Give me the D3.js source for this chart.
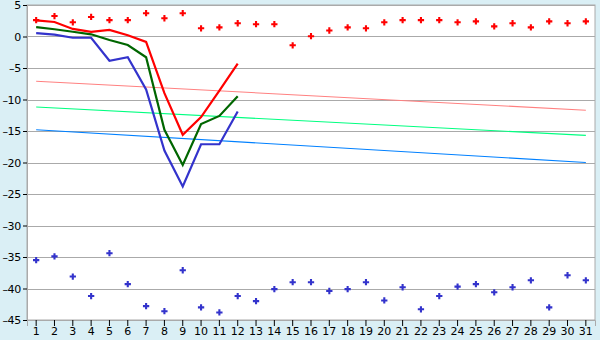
<!DOCTYPE html>
<html>
<head>
<meta charset="utf-8">
<script src="https://cdn.jsdelivr.net/npm/d3@7"></script>
<style>
  body { margin: 0; background: #daeff5; }
  svg { display: block; font-family: "DejaVu Sans", Verdana, sans-serif; }
</style>
</head>
<body>
<div class="canvas"></div>
<script>
const days = d3.range(1, 32);
const lineDays = d3.range(1, 13);

// values
const redLine = [2.55, 2.3, 1.2, 0.75, 1.05, 0.2, -0.85, -9.0, -15.6, -12.8, -8.6, -4.3];
const greenLine = [1.5, 1.15, 0.75, 0.35, -0.55, -1.35, -3.3, -14.8, -20.4, -13.9, -12.6, -9.5];
const blueLine = [0.55, 0.3, -0.2, -0.2, -3.85, -3.3, -8.4, -18.1, -23.8, -17.1, -17.1, -11.9];

const redDots = [2.6, 3.25, 2.25, 3.1, 2.6, 2.6, 3.7, 2.9, 3.7, 1.3, 1.45, 2.1, 1.95, 1.95, -1.4, 0.05,
  0.95, 1.45, 1.3, 2.25, 2.6, 2.6, 2.6, 2.25, 2.4, 1.6, 2.1, 1.45, 2.4, 2.1, 2.4];
const blueDots = [-35.5, -34.9, -38.1, -41.2, -34.4, -39.3, -42.8, -43.6, -37.1, -43.0, -43.8, -41.2, -42.0,
  -40.1, -39.0, -39.0, -40.4, -40.1, -39.0, -41.9, -39.8, -43.3, -41.2, -39.7, -39.3, -40.6, -39.8, -38.7,
  -43.0, -37.9, -38.7];

// trend lines: value at day 1 and day 31
const trendDays = [1, 31];
const redTrend = [-7.1, -11.7];
const greenTrend = [-11.2, -15.7];
const blueTrend = [-14.8, -20.0];

const yTicks = [5, 0, -5, -10, -15, -20, -25, -30, -35, -40, -45];

const margin = { t: 5, r: 5, b: 20, l: 27 };
const svgWidth = 600;
const svgHeight = 340;
const gWidth = svgWidth - margin.l - margin.r;
const gHeight = svgHeight - margin.b - margin.t;

const svg = d3
  .select(".canvas")
  .append("svg")
  .attr("width", svgWidth)
  .attr("height", svgHeight);

const g = svg
  .append("g")
  .attr("transform", `translate(${margin.l}, ${margin.t})`);

const x = d3.scaleBand().domain(days).range([0, gWidth]);
const y = d3.scaleLinear().domain([-45, 5]).range([gHeight, 0]);
const cx = d => x(d) + x.bandwidth() / 2;

g.append("rect")
  .attr("width", gWidth)
  .attr("height", gHeight)
  .attr("fill", "#fff")
  .attr("stroke", "#aaa");

g.append("g")
  .selectAll("line")
  .data(yTicks)
  .enter()
  .append("line")
  .attr("x1", 0)
  .attr("x2", gWidth)
  .attr("y1", d => Math.round(y(d)) + 0.5)
  .attr("y2", d => Math.round(y(d)) + 0.5)
  .attr("stroke", "#aaa");

const yAxis = d3
  .axisLeft(y)
  .tickValues(yTicks)
  .tickSize(4)
  .tickPadding(2)
  .tickFormat(d => (d < 0 ? "\u2013" + -d : "" + d));
const xAxis = d3.axisBottom(x).tickSize(6).tickPadding(1);

const yAxisGroup = g.append("g").call(yAxis);
const xAxisGroup = g.append("g").attr("transform", `translate(0, ${gHeight})`).call(xAxis);

[yAxisGroup, xAxisGroup].forEach(ax => {
  ax.select(".domain").attr("stroke", "#aaa");
  ax.selectAll(".tick line").attr("stroke", "#000");
  ax.selectAll("text")
    .attr("fill", "#000")
    .style("font-size", "11px")
    .style("font-family", "DejaVu Sans, sans-serif");
});
yAxisGroup.selectAll("text").style("letter-spacing", "-0.3px");

const trend = d3.line().x((d, i) => cx(trendDays[i])).y(d => y(d));
[[redTrend, "#ff8080"], [greenTrend, "#00ff80"], [blueTrend, "#0080ff"]].forEach(([data, color]) => {
  g.append("path")
    .datum(data)
    .attr("fill", "none")
    .attr("stroke", color)
    .attr("stroke-width", 1.1)
    .attr("d", trend);
});

const line = d3.line().x((d, i) => cx(lineDays[i])).y(d => y(d));
[[blueLine, "#3333cc"], [greenLine, "#006600"], [redLine, "#ff0000"]].forEach(([data, color]) => {
  g.append("path")
    .datum(data)
    .attr("fill", "none")
    .attr("stroke", color)
    .attr("stroke-width", 2.2)
    .attr("d", line);
});

const cross = d3.symbol().type(d3.symbolCross).size(22);
[[redDots, "#ff0000"], [blueDots, "#3333cc"]].forEach(([data, color]) => {
  g.append("g")
    .selectAll("path")
    .data(data)
    .enter()
    .append("path")
    .attr("d", cross)
    .attr("transform", (d, i) => `translate(${cx(days[i])}, ${y(d)})`)
    .attr("fill", color);
});
</script>
</body>
</html>
